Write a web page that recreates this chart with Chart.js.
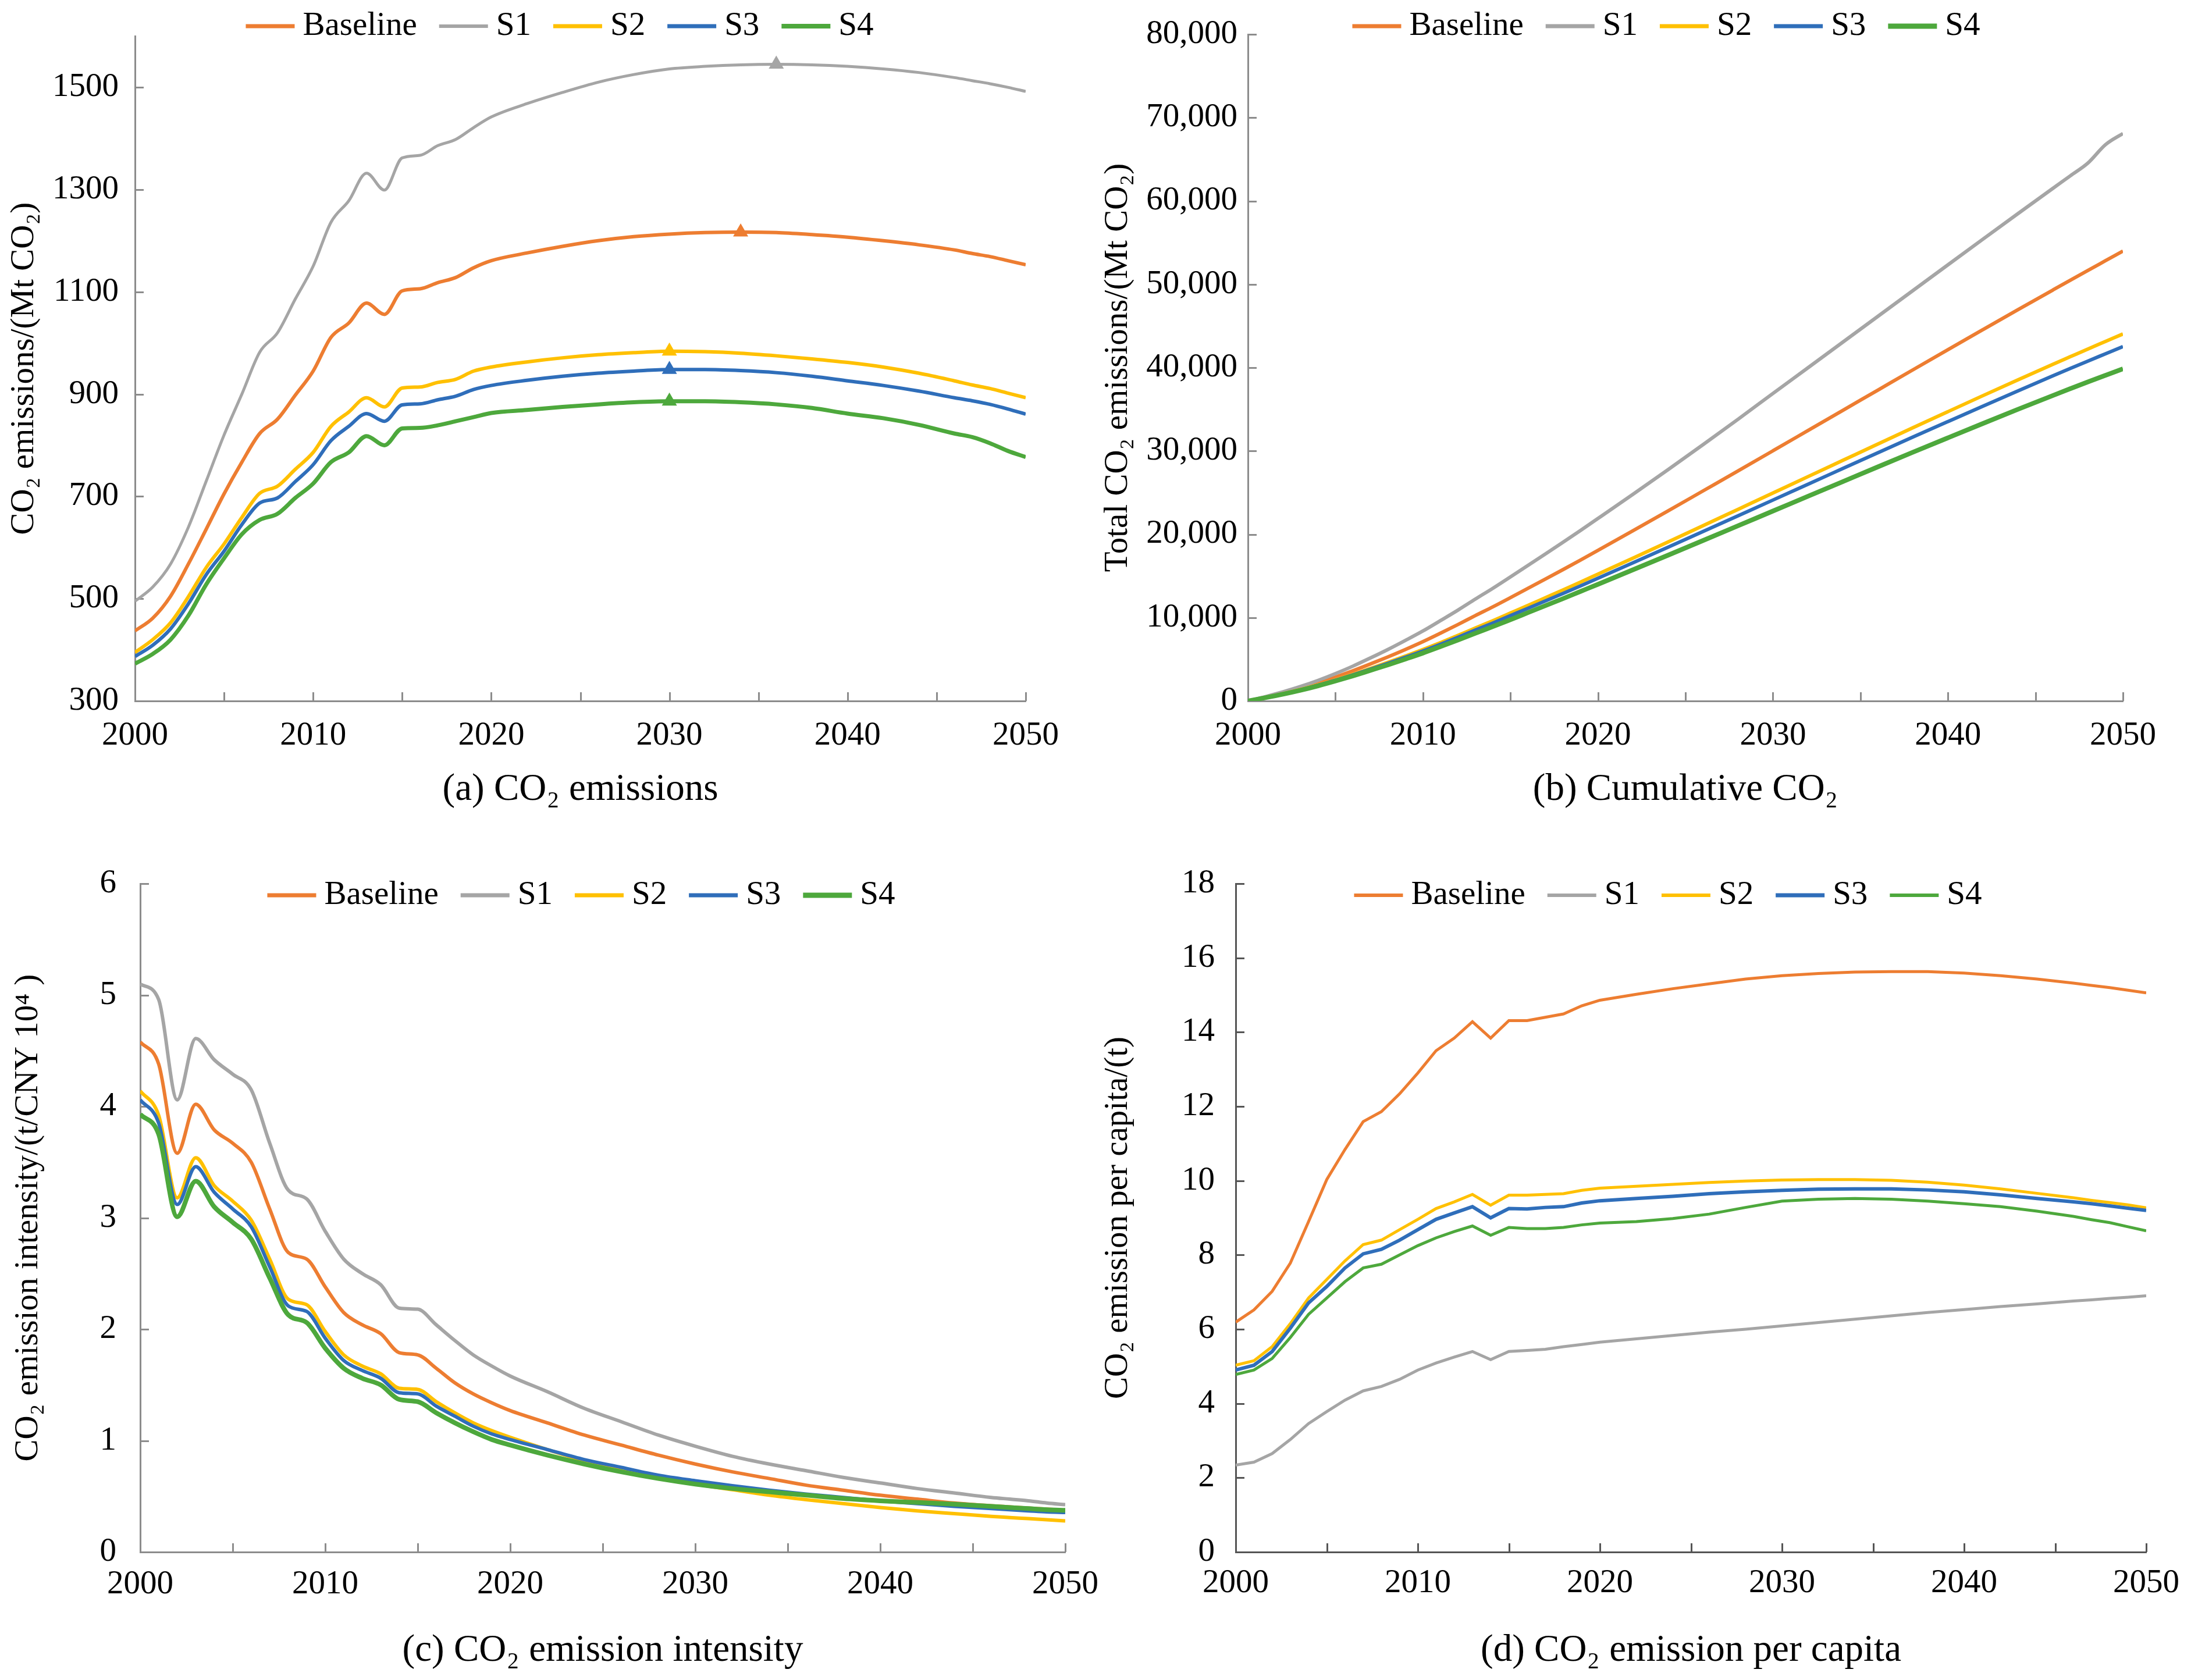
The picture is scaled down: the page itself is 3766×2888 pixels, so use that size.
<!DOCTYPE html>
<html>
<head>
<meta charset="utf-8">
<script src="https://cdn.jsdelivr.net/npm/chart.js@4.4.1/dist/chart.umd.min.js"></script>
<style>
html,body{margin:0;padding:0;background:#fff;width:3766px;height:2888px;overflow:hidden;}
canvas{position:absolute;}
.probe{position:absolute;left:10px;top:10px;font-family:'Liberation Serif';font-size:57px;color:#fff;z-index:-1;}
</style>
</head>
<body>
<div class="probe">Baseline S1 CO₂ 10⁴ 0123456789 (a)</div>
<canvas id="ca" width="1883" height="1444" style="left:0px;top:0px;width:1883px;height:1444px"></canvas>
<canvas id="cb" width="1883" height="1444" style="left:1883px;top:0px;width:1883px;height:1444px"></canvas>
<canvas id="cc" width="1910" height="1444" style="left:0px;top:1444px;width:1910px;height:1444px"></canvas>
<canvas id="cd" width="1886" height="1444" style="left:1880px;top:1444px;width:1886px;height:1444px"></canvas>
<script>
// ---------------- DATA ----------------
const YEARS = [2000,2001,2002,2003,2004,2005,2006,2007,2008,2009,2010,2011,2012,2013,2014,2015,2016,2017,2018,2019,2020,
  2022,2024,2026,2028,2030,2032,2034,2036,2038,2040,2042,2044,2046,2047,2048,2049,2050];
const SERIES_NAMES = ['Baseline','S1','S2','S3','S4'];
const X_TICKS = [2000,2005,2010,2015,2020,2025,2030,2035,2040,2045,2050];

// (a) CO2 emissions (Mt CO2)
const EMIS_BASELINE = [437,462,505,568,636,705,767,823,851,898,945,1011,1039,1078,1056,1102,1106,1118,1128,1147,1161,
  1176,1189,1200,1208,1213,1216,1217,1216,1212,1207,1200,1192,1182,1175,1169,1161,1153];
const EMIS_S1 = [495,523,568,640,730,820,900,982,1020,1086,1150,1236,1278,1332,1299,1362,1367,1386,1398,1421,1442,
  1468,1490,1510,1525,1536,1541,1544,1545,1544,1541,1536,1529,1519,1513,1507,1500,1492];
const EMIS_S2 = [395,420,453,504,561,607,659,706,720,753,786,837,865,893,875,912,914,923,929,945,953,
  963,971,977,981,984,983,980,975,969,962,953,941,926,918,911,902,893];
const EMIS_S3 = [387,409,441,490,547,593,645,687,697,729,762,809,837,862,847,879,881,889,896,909,917,
  927,935,941,945,948,948,946,942,935,926,917,906,893,887,880,871,861];
const EMIS_S4 = [373,392,420,467,528,579,626,654,666,697,725,767,786,818,800,833,834,839,847,855,863,
  869,875,880,884,886,886,884,880,873,862,853,840,823,816,804,789,777];
const EMIS_PEAK_YEARS = [2034,2036,2030,2030,2030];
const EMIS_Y_TICKS = [300,500,700,900,1100,1300,1500];

// (b) Cumulative CO2 (Mt CO2)
const CUM_BASELINE = [0,460,960,1530,2160,2860,3620,4440,5290,6180,7120,8130,9170,10250,11300,12400,13510,14630,15760,16910,18070,
  20420,22800,25200,27600,30020,32450,34880,37310,39740,42160,44560,46950,49320,50500,51670,52830,53990];
const CUM_S1 = [0,520,1090,1730,2460,3280,4180,5160,6180,7270,8400,9640,10900,12230,13530,14890,16260,17640,19040,20460,21900,
  24800,27750,30750,33800,36900,39980,43070,46160,49250,52340,55420,58480,61520,63030,64550,66750,68100];
const CUM_S2 = [0,420,870,1380,1940,2540,3200,3910,4630,5380,6170,7000,7870,8760,9640,10550,11460,12390,13320,14260,15220,
  17140,19080,21030,22990,24950,26920,28880,30840,32790,34720,36640,38540,40400,41320,42240,43140,44040];
const CUM_S3 = [0,410,850,1340,1890,2480,3130,3810,4510,5240,6000,6810,7650,8510,9360,10240,11120,12010,12900,13810,14730,
  16580,18450,20330,22220,24110,26010,27900,29790,31670,33530,35380,37210,39020,39910,40790,41660,42530];
const CUM_S4 = [0,390,810,1280,1810,2390,3010,3670,4330,5030,5750,6520,7310,8130,8930,9760,10600,11440,12280,13140,14000,
  15740,17490,19250,21020,22790,24560,26330,28100,29850,31580,33300,35000,36660,37480,38290,39080,39860];
const CUM_Y_TICKS = [0,10000,20000,30000,40000,50000,60000,70000,80000];

// (c) CO2 emission intensity (t / CNY 10^4)
const INT_BASELINE = [4.58,4.38,3.58,4.02,3.79,3.67,3.50,3.08,2.69,2.63,2.38,2.15,2.04,1.96,1.79,1.77,1.65,1.52,1.42,1.34,1.27,
  1.16,1.05,0.96,0.87,0.79,0.72,0.66,0.60,0.555,0.51,0.475,0.44,0.415,0.405,0.395,0.385,0.375];
const INT_S1 = [5.10,4.96,4.06,4.61,4.42,4.29,4.15,3.67,3.25,3.17,2.88,2.63,2.50,2.40,2.19,2.18,2.04,1.90,1.77,1.67,1.58,
  1.44,1.29,1.17,1.05,0.95,0.86,0.79,0.73,0.67,0.62,0.57,0.53,0.49,0.475,0.46,0.44,0.425];
const INT_S2 = [4.14,3.92,3.18,3.54,3.29,3.15,2.98,2.63,2.27,2.22,1.98,1.77,1.67,1.60,1.47,1.46,1.35,1.25,1.16,1.09,1.03,
  0.92,0.82,0.74,0.67,0.61,0.56,0.51,0.47,0.435,0.40,0.37,0.345,0.32,0.31,0.30,0.29,0.28];
const INT_S3 = [4.06,3.85,3.12,3.46,3.23,3.08,2.92,2.56,2.21,2.16,1.92,1.72,1.63,1.56,1.43,1.42,1.31,1.22,1.13,1.06,1.01,
  0.92,0.83,0.76,0.69,0.64,0.595,0.555,0.52,0.49,0.46,0.435,0.41,0.39,0.38,0.37,0.36,0.355];
const INT_S4 = [3.93,3.75,3.01,3.33,3.10,2.96,2.81,2.46,2.13,2.06,1.83,1.65,1.56,1.50,1.37,1.35,1.25,1.16,1.08,1.01,0.96,
  0.87,0.79,0.72,0.66,0.61,0.57,0.54,0.51,0.48,0.46,0.445,0.43,0.41,0.40,0.39,0.38,0.375];
const INT_Y_TICKS = [0,1,2,3,4,5,6];

// (d) CO2 emission per capita (t)
const PC_BASELINE = [6.19,6.52,7.02,7.78,8.9,10.03,10.84,11.59,11.86,12.34,12.9,13.5,13.84,14.28,13.84,14.31,14.31,14.4,14.49,14.71,14.86,
  15.02,15.17,15.3,15.43,15.52,15.58,15.62,15.63,15.63,15.59,15.52,15.43,15.32,15.26,15.2,15.13,15.06];
const PC_S1 = [2.34,2.42,2.65,3.03,3.46,3.78,4.09,4.34,4.46,4.65,4.9,5.09,5.25,5.40,5.18,5.40,5.43,5.46,5.53,5.59,5.65,
  5.74,5.83,5.92,6.0,6.09,6.18,6.27,6.36,6.45,6.53,6.61,6.68,6.76,6.79,6.83,6.86,6.9];
const PC_S2 = [5.03,5.15,5.53,6.15,6.84,7.34,7.84,8.28,8.4,8.68,8.96,9.25,9.43,9.63,9.34,9.61,9.61,9.63,9.65,9.74,9.8,
  9.85,9.9,9.95,9.99,10.02,10.03,10.03,10.01,9.96,9.88,9.78,9.66,9.54,9.47,9.41,9.35,9.27];
const PC_S3 = [4.9,5.03,5.4,6.03,6.71,7.15,7.65,8.03,8.15,8.4,8.68,8.96,9.13,9.3,9.0,9.25,9.24,9.28,9.3,9.4,9.46,
  9.52,9.58,9.65,9.7,9.74,9.77,9.78,9.78,9.75,9.7,9.62,9.52,9.43,9.38,9.32,9.26,9.2];
const PC_S4 = [4.78,4.9,5.21,5.78,6.4,6.84,7.28,7.65,7.75,8.0,8.25,8.46,8.63,8.78,8.53,8.74,8.71,8.71,8.74,8.81,8.86,
  8.9,8.98,9.1,9.28,9.45,9.5,9.52,9.5,9.45,9.38,9.3,9.18,9.04,8.95,8.87,8.76,8.65];
const PC_Y_TICKS = [0,2,4,6,8,10,12,14,16,18];

// ---------------- STYLE ----------------
const FONT = '"Liberation Serif"';
Chart.defaults.font.family = FONT;
const COLORS = ['#ED7D31','#A5A5A5','#FFC000','#2F6EBA','#4DA83C'];

const legendPlugin = {
  id: 'customLegend',
  afterDraw(chart, args, o) {
    const ctx = chart.ctx;
    const ds = chart.data.datasets;
    ctx.save();
    ctx.font = o.fontSize + 'px ' + FONT;
    const widths = ds.map(d => ctx.measureText(d.label).width);
    let total = 0;
    ds.forEach((d, i) => { total += o.lineLen + o.gap + widths[i]; });
    total += o.spacing * (ds.length - 1);
    let x = o.cx - total / 2;
    ds.forEach((d, i) => {
      ctx.strokeStyle = d.borderColor;
      ctx.lineWidth = d.borderWidth + 1;
      ctx.lineCap = 'butt';
      ctx.beginPath();
      ctx.moveTo(x, o.cy);
      ctx.lineTo(x + o.lineLen, o.cy);
      ctx.stroke();
      x += o.lineLen + o.gap;
      ctx.fillStyle = '#000';
      ctx.textAlign = 'left';
      ctx.textBaseline = 'middle';
      ctx.fillText(d.label, x, o.cy);
      x += widths[i] + o.spacing;
    });
    ctx.restore();
  }
};

const tickPlugin = {
  id: 'insideTicks',
  beforeDatasetsDraw(chart, args, o) {
    const ctx = chart.ctx, ca = chart.chartArea, xs = chart.scales.x, ys = chart.scales.y;
    ctx.save();
    ctx.strokeStyle = o.color;
    ctx.lineWidth = o.width;
    ctx.beginPath();
    xs.ticks.forEach(t => {
      const px = Math.round(xs.getPixelForValue(t.value)) + 0.5;
      ctx.moveTo(px, ca.bottom); ctx.lineTo(px, ca.bottom - o.len);
    });
    ys.ticks.forEach(t => {
      const py = Math.round(ys.getPixelForValue(t.value)) + 0.5;
      ctx.moveTo(ca.left, py); ctx.lineTo(ca.left + o.len, py);
    });
    ctx.stroke();
    ctx.restore();
  }
};

function makePanel(id, series, p) {
  const datasets = series.map((arr, i) => ({
    label: SERIES_NAMES[i],
    data: arr,
    borderColor: COLORS[i],
    backgroundColor: COLORS[i],
    borderWidth: p.lw[i],
    fill: false,
    order: 5 - i,
    pointStyle: 'triangle',
    pointBackgroundColor: COLORS[i],
    pointBorderColor: COLORS[i],
    pointBorderWidth: 0,
    pointRadius: p.peaks ? (c => YEARS[c.dataIndex] === p.peaks[i] ? 15 : 0) : 0,
    cubicInterpolationMode: p.smooth ? 'monotone' : 'default',
    tension: p.smooth ? 0.4 : 0
  }));
  return new Chart(document.getElementById(id), {
    type: 'line',
    data: { labels: YEARS, datasets },
    options: {
      responsive: false, animation: false, devicePixelRatio: 1, events: [],
      layout: { padding: { top: p.top, right: p.right, left: 0, bottom: 0 } },
      plugins: {
        legend: { display: false },
        tooltip: { enabled: false },
        customLegend: { cx: p.legX, cy: p.legY, fontSize: 57, lineLen: 84, gap: 14, spacing: 38 },
        insideTicks: { color: p.axisColor, width: 3, len: 15 }
      },
      scales: {
        x: {
          type: 'linear', min: 2000, max: 2050,
          afterBuildTicks: s => { s.ticks = X_TICKS.map(v => ({ value: v })); },
          afterFit: s => { s.height = p.xHeight; },
          grid: { display: false, drawTicks: false },
          border: { display: true, color: p.axisColor, width: 3 },
          ticks: { autoSkip: false, maxRotation: 0, minRotation: 0, padding: p.xTickPad, color: '#000',
                   font: { family: FONT, size: 57 }, callback: v => (v % 10 === 0 ? String(v) : '') },
          title: { display: true, text: p.caption, color: '#000', font: { family: FONT, size: 65 },
                   padding: { top: 0, bottom: p.capPad } }
        },
        y: {
          type: 'linear', min: p.ymin, max: p.ymax,
          afterBuildTicks: s => { s.ticks = p.yTicks.map(v => ({ value: v })); },
          afterFit: s => { s.width = p.yWidth; },
          grid: { display: false, drawTicks: false },
          border: { display: true, color: p.axisColor, width: 3 },
          ticks: { padding: p.yTickPad, color: '#000', font: { family: FONT, size: 57 }, callback: p.fmt },
          title: { display: true, text: p.ytitle, color: '#000', font: { family: FONT, size: 57 },
                   padding: { top: p.yTitlePad, bottom: 0 } }
        }
      }
    },
    plugins: [tickPlugin, legendPlugin]
  });
}

function drawAll() {
  makePanel('ca', [EMIS_BASELINE, EMIS_S1, EMIS_S2, EMIS_S3, EMIS_S4], {
    ymin: 300, ymax: 1600, yTicks: EMIS_Y_TICKS, fmt: v => String(v),
    ytitle: 'CO\u2082 emissions/(Mt CO\u2082)', caption: '(a) CO\u2082 emissions',
    peaks: EMIS_PEAK_YEARS, smooth: true, lw: [6, 5, 6, 6, 7],
    yWidth: 232, top: 60, right: 120, xHeight: 239, yTickPad: 28, yTitlePad: 8, xTickPad: 26, capPad: 47,
    legX: 962, legY: 45, axisColor: '#8c8c8c'
  });
  makePanel('cb', [CUM_BASELINE, CUM_S1, CUM_S2, CUM_S3, CUM_S4], {
    ymin: 0, ymax: 80000, yTicks: CUM_Y_TICKS, fmt: v => Number(v).toLocaleString('en-US'),
    ytitle: 'Total CO\u2082 emissions/(Mt CO\u2082)', caption: '(b) Cumulative CO\u2082',
    peaks: null, smooth: true, lw: [6, 6, 6, 6, 8],
    yWidth: 262, top: 59, right: 117, xHeight: 239, yTickPad: 18, yTitlePad: 5, xTickPad: 26, capPad: 47,
    legX: 981, legY: 45, axisColor: '#8c8c8c'
  });
  makePanel('cc', [INT_BASELINE, INT_S1, INT_S2, INT_S3, INT_S4], {
    ymin: 0, ymax: 6, yTicks: INT_Y_TICKS, fmt: v => String(v),
    ytitle: 'CO\u2082 emission intensity/(t/CNY 10\u2074 )', caption: '(c) CO\u2082 emission intensity',
    peaks: null, smooth: true, lw: [6, 6, 6, 6, 8],
    yWidth: 241, top: 75, right: 65, xHeight: 220, yTickPad: 41, yTitlePad: 15, xTickPad: 22, capPad: 11,
    legX: 999, legY: 95, axisColor: '#8c8c8c'
  });
  makePanel('cd', [PC_BASELINE, PC_S1, PC_S2, PC_S3, PC_S4], {
    ymin: 0, ymax: 18, yTicks: PC_Y_TICKS, fmt: v => String(v),
    ytitle: 'CO\u2082 emission per capita/(t)', caption: '(d) CO\u2082 emission per capita',
    peaks: null, smooth: false, lw: [5, 5, 5, 6, 5],
    yWidth: 244, top: 75, right: 68, xHeight: 220, yTickPad: 36, yTitlePad: 8, xTickPad: 20, capPad: 11,
    legX: 987, legY: 95, axisColor: '#555555'
  });
}

drawAll();
</script>
</body>
</html>
